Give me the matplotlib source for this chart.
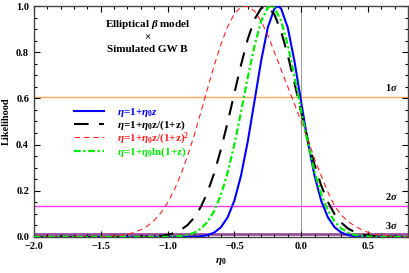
import matplotlib
matplotlib.use("Agg")
import matplotlib.pyplot as plt
from matplotlib.ticker import MultipleLocator

plt.rcParams['font.family'] = ['Liberation Serif', 'DejaVu Serif']
plt.rcParams['font.weight'] = 'bold'
plt.rcParams['mathtext.fontset'] = 'custom'
plt.rcParams['mathtext.rm'] = 'Liberation Serif:bold'
plt.rcParams['mathtext.it'] = 'Liberation Serif:italic:bold'
plt.rcParams['mathtext.bf'] = 'Liberation Serif:bold'

# ---- data ----
blue_x = [-2.0, -1.0, -0.85, -0.8, -0.75, -0.7, -0.65, -0.6, -0.55, -0.5, -0.45, -0.4, -0.35, -0.3,
          -0.25, -0.2, -0.175, -0.15, -0.1, -0.05, 0.0, 0.05, 0.1, 0.15, 0.2, 0.25, 0.3, 0.35,
          0.4, 0.45, 0.5, 0.6, 0.8]
blue_y = [0.0, 0.0, 0.0003, 0.0011, 0.0031, 0.008, 0.0193, 0.0423, 0.0853, 0.157, 0.266, 0.412,
          0.585, 0.761, 0.906, 0.989, 1.0, 0.989, 0.906, 0.761, 0.585, 0.412, 0.266, 0.157,
          0.0853, 0.0423, 0.0193, 0.008, 0.0031, 0.0011, 0.0003, 0.0, 0.0]

black_x = [-2.0, -1.2, -1.1, -1.05, -1.0, -0.95, -0.9, -0.85, -0.8, -0.75, -0.7, -0.65, -0.6,
           -0.55, -0.5, -0.45, -0.4, -0.35, -0.3, -0.266, -0.25, -0.2, -0.15, -0.1, -0.05, 0.0,
           0.05, 0.1, 0.15, 0.2, 0.25, 0.3, 0.35, 0.4, 0.45, 0.5, 0.55, 0.6, 0.8]
black_y = [0.0, 0.0006, 0.0024, 0.0048, 0.0093, 0.0172, 0.0305, 0.0518, 0.0841, 0.1308, 0.195,
           0.278, 0.38, 0.497, 0.622, 0.745, 0.856, 0.941, 0.99, 1.0, 0.998, 0.963, 0.89, 0.787,
           0.667, 0.541, 0.42, 0.313, 0.223, 0.152, 0.099, 0.062, 0.037, 0.0213, 0.0117,
           0.0061, 0.0031, 0.0015, 0.0]

red_x = [-2.0, -1.6, -1.5, -1.4, -1.35, -1.3, -1.25, -1.2, -1.15, -1.1, -1.05, -1.0, -0.95,
         -0.9, -0.85, -0.8, -0.75, -0.7, -0.65, -0.6, -0.55, -0.5, -0.45, -0.423, -0.4, -0.35,
         -0.3, -0.25, -0.2, -0.15, -0.1, -0.05, 0.0, 0.05, 0.1, 0.15, 0.2, 0.25, 0.3, 0.35, 0.4,
         0.45, 0.5, 0.55, 0.6, 0.7, 0.8]
red_y = [0.0, 0.0003, 0.0013, 0.0041, 0.0072, 0.012, 0.0197, 0.0312, 0.048, 0.0719, 0.1045,
         0.148, 0.203, 0.271, 0.351, 0.442, 0.541, 0.644, 0.744, 0.835, 0.911, 0.966, 0.996,
         1.0, 0.998, 0.979, 0.935, 0.875, 0.8, 0.725, 0.65, 0.575, 0.5, 0.42, 0.34, 0.265,
         0.195, 0.135, 0.095, 0.068, 0.048, 0.032, 0.02, 0.012, 0.007, 0.002, 0.001]

green_x = [-2.0, -1.1, -1.0, -0.95, -0.9, -0.85, -0.8, -0.75, -0.7, -0.65, -0.6, -0.55, -0.5,
           -0.45, -0.4, -0.35, -0.3, -0.25, -0.224, -0.2, -0.15, -0.1, -0.05, 0.0, 0.05, 0.1,
           0.15, 0.2, 0.25, 0.3, 0.35, 0.4, 0.45, 0.5, 0.6, 0.8]
green_y = [0.0, 0.0001, 0.0006, 0.0018, 0.0041, 0.009, 0.0186, 0.036, 0.0657, 0.113, 0.183,
           0.279, 0.4, 0.541, 0.689, 0.826, 0.933, 0.992, 1.0, 0.993, 0.936, 0.831, 0.695,
           0.547, 0.406, 0.283, 0.186, 0.115, 0.0672, 0.0369, 0.0191, 0.0093, 0.0043, 0.0018,
           0.0003, 0.0]

sigma_levels = [0.6065, 0.1353, 0.0111]
sigma_labels = ['1', '2', '3']
sigma_colors = ['#FFAA55', '#FF33FF', '#9A4F9A']

labels = [r'$\eta$=1+$\eta_0z$',
          r'$\eta$=1+$\eta_0$z/(1+z)',
          r'$\eta$=1+$\eta_0$z/(1+z)$^2$',
          r'$\eta$=1+$\eta_0$ln(1+z)']

fig = plt.figure(figsize=(4.09, 2.73), dpi=100)
ax = fig.add_axes([0.083, 0.132, 0.9146, 0.846])

for lev, col, lw in zip(sigma_levels, sigma_colors, [1.0, 1.0, 2.0]):
    ax.axhline(lev, color=col, lw=lw, zorder=1)
ax.axvline(0.0, color='#999999', lw=0.7, zorder=1)

l1, = ax.plot(blue_x, blue_y, color='#0000FF', lw=1.5, label=labels[0], zorder=3)
l2, = ax.plot(black_x, black_y, color='black', lw=1.5, dashes=(7, 5), label=labels[1], zorder=3)
l3, = ax.plot(red_x, red_y, color='#FF2020', lw=0.8, dashes=(5, 3.5), label=labels[2], zorder=3)
l4, = ax.plot(green_x, green_y, color='#00EE00', lw=1.6, dashes=(3, 1.2, 1, 1.2), label=labels[3], zorder=3)

ax.set_xlim(-2.0, 0.8)
ax.set_ylim(0.0, 1.0)
ax.xaxis.set_major_locator(MultipleLocator(0.5))
ax.xaxis.set_minor_locator(MultipleLocator(0.1))
ax.yaxis.set_major_locator(MultipleLocator(0.2))
ax.yaxis.set_minor_locator(MultipleLocator(0.05))
ax.tick_params(which='both', direction='in', top=True, right=True, labelsize=7.5, width=0.8)
ax.tick_params(which='major', length=4)
ax.tick_params(which='minor', length=2)
for s in ax.spines.values():
    s.set_linewidth(1.0)
    s.set_color('#444444')

ax.set_xlabel(r'$\eta_0$', fontsize=8)
ax.set_ylabel('Likelihood', fontsize=7.5, fontweight='bold')

for lev, lab in zip(sigma_levels, sigma_labels):
    ax.text(0.68, lev + 0.015, lab + r'$\sigma$', fontsize=7.5, ha='center', va='bottom')

tx = -1.15
ax.text(tx, 0.918, r'Elliptical $\beta$ model', fontsize=8, ha='center', va='center')
ax.text(tx, 0.862, '×', fontsize=8, ha='center', va='center')
ax.text(tx, 0.812, 'Simulated GW B', fontsize=8, ha='center', va='center')

leg = ax.legend(handles=[l1, l2, l3, l4], loc='upper left', bbox_to_anchor=(0.095, 0.585),
                frameon=False, fontsize=8, handlelength=2.7, handletextpad=1.2,
                labelspacing=-0.1, labelcolor='linecolor', borderaxespad=0)

fig.savefig('out.png', dpi=100)
